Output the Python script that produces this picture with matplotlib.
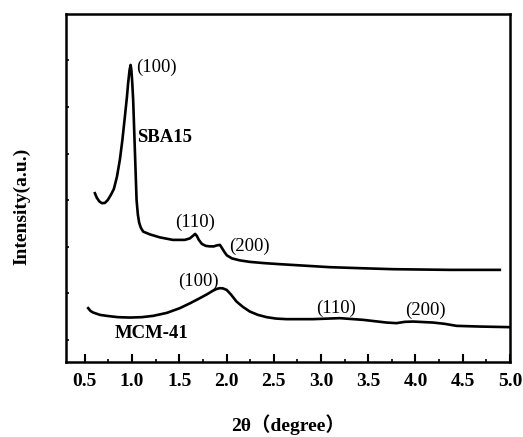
import matplotlib
matplotlib.use('Agg')
import matplotlib.pyplot as plt
import numpy as np
from matplotlib.ticker import MultipleLocator

# SBA15 small-angle XRD trace (offset upward), intensity in a.u.
sba_x = [0.607, 0.628, 0.654, 0.681, 0.713, 0.744, 0.776, 0.808, 0.840, 0.871,
         0.898, 0.924, 0.946, 0.959, 0.974, 0.985, 0.993, 1.002, 1.012, 1.030,
         1.048, 1.062, 1.076, 1.094, 1.118, 1.189, 1.295, 1.432, 1.559, 1.612,
         1.644, 1.668, 1.686, 1.707, 1.739, 1.781, 1.824, 1.866, 1.898, 1.930,
         1.951, 1.977, 2.004, 2.057, 2.141, 2.247, 2.406, 2.565, 2.776, 3.094,
         3.411, 3.760, 4.363, 4.893]
sba_y = [168.7, 164.0, 160.5, 158.7, 159.0, 162.0, 167.0, 173.0, 185.0, 202.0,
         222.0, 245.0, 265.0, 279.0, 292.0, 297.0, 292.0, 280.0, 262.0, 212.0,
         162.0, 147.0, 139.0, 134.0, 130.3, 127.5, 124.5, 122.0, 122.0, 123.5,
         126.0, 128.0, 126.0, 122.0, 118.0, 116.0, 115.5, 115.5, 116.5, 117.0,
         114.0, 110.0, 106.5, 103.5, 101.5, 100.0, 98.7, 97.7, 96.5, 94.7,
         93.7, 92.7, 92.0, 92.0]

# MCM-41 trace
mcm_x = [0.536, 0.559, 0.589, 0.660, 0.731, 0.850, 0.977, 1.104, 1.224, 1.369,
         1.506, 1.612, 1.718, 1.792, 1.859, 1.898, 1.930, 1.961, 2.001, 2.046,
         2.106, 2.173, 2.247, 2.332, 2.424, 2.522, 2.635, 2.917, 3.199, 3.446,
         3.694, 3.799, 3.887, 3.975, 4.187, 4.311, 4.434, 4.681, 5.0]
mcm_y = [53.7, 51.0, 49.3, 47.0, 46.0, 44.7, 44.3, 44.7, 46.0, 49.0,
         53.7, 58.5, 63.7, 67.5, 71.3, 73.0, 73.7, 73.5, 72.0, 67.5,
         60.3, 55.0, 50.3, 47.0, 44.7, 43.3, 42.7, 42.7, 43.7, 42.0,
         39.3, 38.7, 40.0, 40.3, 39.3, 38.0, 36.0, 35.3, 34.7]

# peak indices: (text, x, y)
sba_peaks = [('(100)', 1.04, 295), ('(110)', 1.453, 140), ('(200)', 2.025, 116)]
mcm_peaks = [('(100)', 1.485, 80.3), ('(110)', 2.946, 54), ('(200)', 3.887, 51.3)]

serif = 'Liberation Serif'

fig = plt.figure(figsize=(5.23, 4.37), dpi=100)
ax = fig.add_axes([0.126, 0.172, 0.849, 0.796])

ax.plot(sba_x, sba_y, color='black', lw=1.9, solid_joinstyle='round')
ax.plot(mcm_x, mcm_y, color='black', lw=1.9, solid_joinstyle='round')

for txt, x, y in sba_peaks + mcm_peaks:
    ax.text(x, y, txt, fontsize=13.5, family=serif, va='center', ha='left')

ax.text(1.051, 224, 'SBA15', fontsize=13.5, family=serif, weight='bold',
        va='center', ha='left')
ax.text(0.819, 28, 'MCM-41', fontsize=13.5, family=serif, weight='bold',
        va='center', ha='left')

ax.set_xlim(0.3, 5.0)
ax.set_ylim(0, 348)
ax.xaxis.set_major_locator(MultipleLocator(0.5))
ax.xaxis.set_minor_locator(MultipleLocator(0.25))
ax.set_yticks(np.arange(22, 310, 46.6))
ax.set_yticklabels([])
ax.tick_params(axis='x', which='major', direction='in', length=5.5, width=1.5, pad=8)
ax.tick_params(axis='x', which='minor', direction='in', length=2.5, width=1.2)
ax.tick_params(axis='y', which='major', direction='in', length=2.5, width=1.2)
for lbl in ax.get_xticklabels():
    lbl.set_family(serif)
    lbl.set_fontweight('bold')
    lbl.set_fontsize(14)

for sp in ax.spines.values():
    sp.set_linewidth(1.8)

ax.set_xlabel('2θ（degree）', fontsize=14, fontweight='bold',
              family=[serif, 'Noto Sans CJK SC'], va='center')
ax.xaxis.set_label_coords(0.5, -0.181)
ax.set_ylabel('Intensity(a.u.)', fontsize=14, fontweight='bold', family=serif)
ax.yaxis.set_label_coords(-0.079, 0.448)

fig.savefig('out.png', dpi=100)
